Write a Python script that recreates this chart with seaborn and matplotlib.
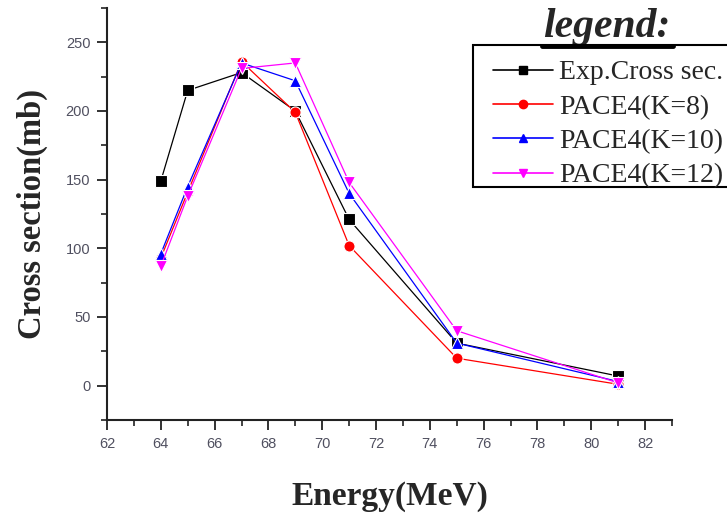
import matplotlib
matplotlib.use("Agg")
import matplotlib.pyplot as plt
from matplotlib.lines import Line2D
from matplotlib.patches import Rectangle
from matplotlib.ticker import MultipleLocator
import seaborn as sns
import pandas as pd

# ---- data ----
energy = [64, 65, 67, 69, 71, 75, 81]
exp_cross = [149, 215, 228, 200, 121, 31, 7]
pace_k8 = [93, 141, 236, 199, 102, 20, 1]
pace_k10 = [96, 145, 235, 222, 140, 31, 3]
pace_k12 = [87, 138, 231, 235, 148, 40, 2]

series_names = ["Exp.Cross sec.", "PACE4(K=8)", "PACE4(K=10)", "PACE4(K=12)"]
series_vals = [exp_cross, pace_k8, pace_k10, pace_k12]
colors = ["#000000", "#FF0000", "#0000FF", "#FF00FF"]
markers = ["s", "o", "^", "v"]

rows = []
for name, vals in zip(series_names, series_vals):
    for e, v in zip(energy, vals):
        rows.append({"Energy": e, "Cross": v, "Series": name})
df = pd.DataFrame(rows)

sns.set_style("ticks")
plt.rcParams["font.family"] = ["Liberation Sans", "DejaVu Sans"]

W, H = 727, 513
fig = plt.figure(figsize=(W / 100, H / 100), dpi=100)
ax = fig.add_axes([107 / W, 1 - 420 / H, (672 - 107) / W, (420 - 8) / H])

sns.lineplot(
    data=df, x="Energy", y="Cross", hue="Series", style="Series",
    hue_order=series_names, style_order=series_names,
    palette=dict(zip(series_names, colors)),
    markers=dict(zip(series_names, markers)),
    dashes=False, markersize=8, markeredgewidth=0.8, linewidth=0.9,
    ax=ax, legend=False,
)

ax.set_xlim(62, 83)
ax.set_ylim(-25, 275)
ax.xaxis.set_minor_locator(MultipleLocator(1))
ax.yaxis.set_minor_locator(MultipleLocator(25))
ax.set_xticks([62, 64, 66, 68, 70, 72, 74, 76, 78, 80, 82])
ax.set_yticks([0, 50, 100, 150, 200, 250])
ax.tick_params(axis="both", which="major", length=7, width=1.3, direction="out",
               labelsize=10.5, labelcolor="#505060", color="#222222", pad=5)
ax.tick_params(axis="both", which="minor", length=4, width=1.2, direction="out",
               color="#222222")
for s in ["top", "right"]:
    ax.spines[s].set_visible(False)
for s in ["left", "bottom"]:
    ax.spines[s].set_linewidth(1.5)
    ax.spines[s].set_color("#222222")

ax.set_xlabel("Energy(MeV)", fontsize=24, fontweight="bold",
              family=["Liberation Serif"], labelpad=22)
ax.set_ylabel("Cross section(mb)", fontsize=23.5, fontweight="bold",
              family=["Liberation Serif"], labelpad=13)

# legend frame (runs off the right edge as in the reference)
fig.add_artist(Rectangle((473 / W, 1 - 187 / H), (760 - 473) / W, (187 - 45) / H,
                         transform=fig.transFigure, facecolor="white",
                         edgecolor="black", linewidth=1.5, zorder=5))

handles = [
    Line2D([], [], color=c, marker=m, markersize=6, linewidth=1.2)
    for c, m in zip(colors, markers)
]
leg = fig.legend(
    handles, series_names, loc="upper left",
    bbox_to_anchor=(493 / W, 1 - 60 / H), bbox_transform=fig.transFigure,
    prop={"family": "Liberation Serif", "size": 20},
    frameon=False,
    handlelength=2.16, handletextpad=0.22, labelspacing=0.32,
    borderpad=0, borderaxespad=0,
)
leg.set_zorder(6)

fig.text(607 / W, 1 - 37 / H, "legend:", ha="center", va="baseline",
         fontsize=30, fontweight="bold", fontstyle="italic",
         family=["Liberation Serif"])
fig.add_artist(Line2D([542 / W, 673 / W], [1 - 46 / H, 1 - 46 / H],
                      transform=fig.transFigure, color="black", linewidth=3.5,
                      zorder=20))

fig.savefig("out.png", dpi=100)
